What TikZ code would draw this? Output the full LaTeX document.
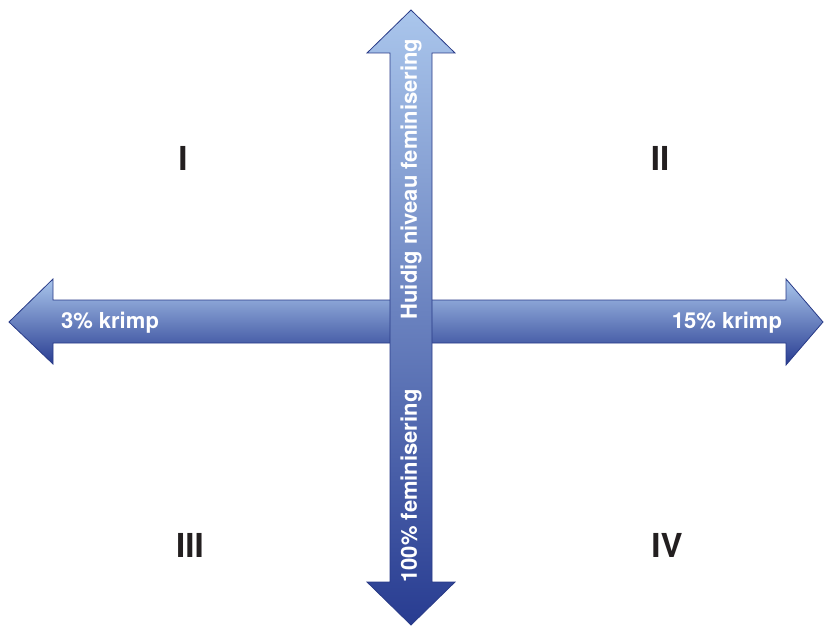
\documentclass[tikz,border=0pt]{standalone}
\usepackage{fontspec}
\setmainfont{TeX Gyre Heros}
\definecolor{arrowlight}{RGB}{170,198,236}
\definecolor{arrowdark}{RGB}{40,60,145}
\definecolor{arrowedge}{RGB}{40,58,135}
\definecolor{numeral}{RGB}{35,31,32}
\tikzset{
  axisarrow/.style={draw=arrowedge, line width=0.8pt, line join=miter,
    top color=arrowlight, bottom color=arrowdark},
  axislabel/.style={text=white, font=\bfseries\fontsize{22}{25}\selectfont, inner sep=0pt},
  quadrant/.style={text=numeral, font=\bfseries\fontsize{33}{36}\selectfont, inner sep=0pt}
}
\begin{document}
\begin{tikzpicture}[x=1pt,y=-1pt]
\useasboundingbox (0,0) rectangle (825,626);
% horizontal double arrow
\path[axisarrow] (9,322) -- (53,279) -- (53,300) -- (786,300) -- (786,279)
  -- (823,322) -- (786,365) -- (786,343) -- (53,343) -- (53,364) -- cycle;
% vertical double arrow, drawn over the horizontal one
\path[axisarrow] (411,10) -- (455,53) -- (432,53) -- (432,582) -- (455,582)
  -- (411,625) -- (367,582) -- (390,582) -- (390,53) -- (367,53) -- cycle;
% axis labels
\node[axislabel] (left) at (110,323) {3\% krimp};
\node[axislabel] (right) at (727,323) {15\% krimp};
\node[axislabel, rotate=90] (up) at (411,179) {Huidig niveau feminisering};
\node[axislabel, rotate=90] (down) at (411,486) {100\% feminisering};
% quadrant numerals
\node[quadrant] (q1) at (183,158) {I};
\node[quadrant] (q2) at (660,158) {II};
\node[quadrant] (q3) at (190,545) {III};
\node[quadrant] (q4) at (667,545) {IV};
\end{tikzpicture}
\end{document}
